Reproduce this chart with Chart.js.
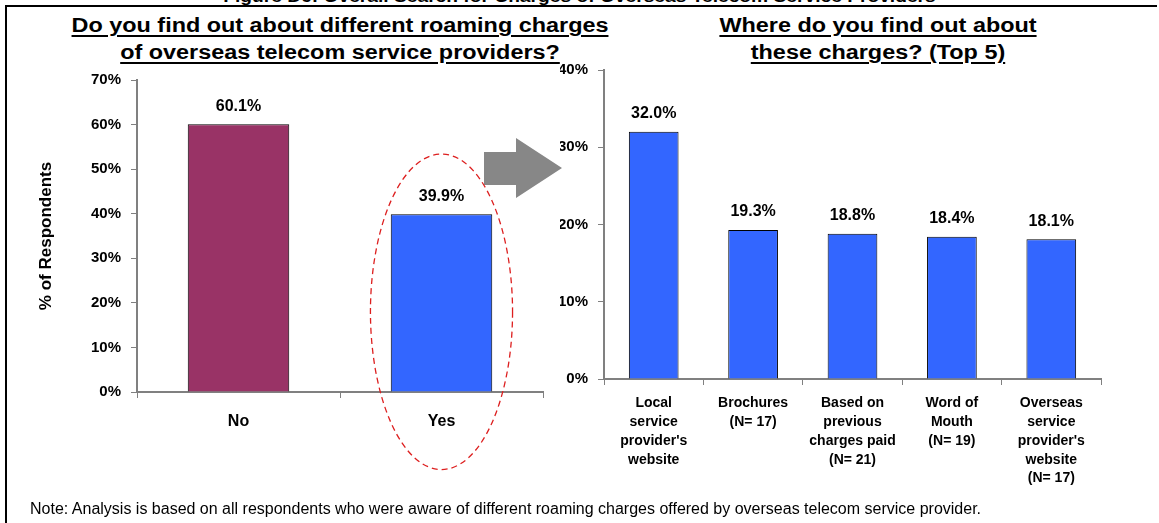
<!DOCTYPE html>
<html>
<head>
<meta charset="utf-8">
<script src="https://cdn.jsdelivr.net/npm/chart.js@4.4.1/dist/chart.umd.min.js"></script>
<style>
  html, body { margin: 0; padding: 0; background: #fff; }
  body { width: 1159px; height: 523px; position: relative; overflow: hidden; font-family: "Liberation Sans", Arial, sans-serif; }
  canvas { position: absolute; left: 0; top: 0; }
  .frame { position: absolute; left: 5px; top: 5px; width: 1150px; height: 530px; border-left: 2px solid #000; border-top: 2px solid #000; }
  .fig-title { position: absolute; left: 0; width: 1159px; top: -12px; text-align: center; font: bold 16px "Liberation Sans", Arial, sans-serif;
               transform: scaleX(1.2); }
  .title { position: absolute; text-align: center; font: bold 20px "Liberation Sans", Arial, sans-serif; line-height: 27px;
           text-decoration: underline; text-decoration-thickness: 2px; text-underline-offset: 3px;
           transform: scaleX(1.17); transform-origin: center top; }
  .note { position: absolute; left: 30px; top: 500px; font: 16px "Liberation Sans", Arial, sans-serif; }
  svg { position: absolute; left: 0; top: 0; }
</style>
</head>
<body>
<div class="fig-title">Figure D6: Overall Search for Charges of Overseas Telecom Service Providers</div>
<div class="frame"></div>
<div class="title" style="left:40px;width:600px;top:12px;">Do you find out about different roaming charges<br>of overseas telecom service providers?</div>
<div class="title" style="left:678px;width:400px;top:12px;">Where do you find out about<br>these charges? (Top 5)</div>
<svg width="1159" height="523">
  <polygon points="484,152 516,152 516,138 562,168 516,198 516,185 484,185" fill="#878787"/>
</svg>
<canvas id="awareChart" width="1159" height="523"></canvas>
<canvas id="sourceChart" width="1159" height="523"></canvas>
<div class="note">Note: Analysis is based on all respondents who were aware of different roaming charges offered by overseas telecom service provider.</div>

<script>
// left panel: aware of roaming charges?
const answerLabels = ['No', 'Yes'];
const answerValues = [60.1, 39.9];

// right panel: top 5 sources
const sourceLabels = [
  ['Local', 'service', "provider's", 'website'],
  ['Brochures', '(N= 17)'],
  ['Based on', 'previous', 'charges paid', '(N= 21)'],
  ['Word of', 'Mouth', '(N= 19)'],
  ['Overseas', 'service', "provider's", 'website', '(N= 17)']
];
const sourceValues = [32.0, 19.3, 18.8, 18.4, 18.1];

const FONT = '"Liberation Sans", Arial, sans-serif';
const AXIS_GREY = '#808080';

// percentage above every bar
const valueLabels = {
  id: 'valueLabels',
  afterDatasetsDraw(chart) {
    const ctx = chart.ctx;
    const meta = chart.getDatasetMeta(0);
    const values = chart.data.datasets[0].data;
    ctx.save();
    ctx.font = 'bold 16px ' + FONT;
    ctx.fillStyle = '#000';
    ctx.textAlign = 'center';
    ctx.textBaseline = 'middle';
    meta.data.forEach((bar, i) => {
      ctx.fillText(values[i].toFixed(1) + '%', bar.x, bar.y - 18);
    });
    ctx.restore();
  }
};

// dashed ring around the "Yes" bar
const yesRing = {
  id: 'yesRing',
  afterDraw(chart) {
    const bar = chart.getDatasetMeta(0).data[1];
    const y = chart.scales.y;
    const cy = y.getPixelForValue(18);
    const ry = cy - y.getPixelForValue(53.4);
    const ctx = chart.ctx;
    ctx.save();
    ctx.strokeStyle = '#dd1f1f';
    ctx.lineWidth = 1.3;
    ctx.setLineDash([6, 4]);
    ctx.beginPath();
    ctx.ellipse(bar.x, cy, bar.width * 0.7, ry, 0, 0, Math.PI * 2);
    ctx.stroke();
    ctx.restore();
  }
};

function axisOpts(max, width, extra) {
  return {
    min: 0,
    max: max,
    ticks: {
      stepSize: 10,
      color: '#000',
      padding: 10,
      font: { family: FONT, size: 15, weight: 'bold' },
      callback: v => v + '%'
    },
    grid: { drawOnChartArea: false, drawTicks: true, tickLength: 6, color: AXIS_GREY },
    border: { color: AXIS_GREY, width: 2 },
    afterFit(scale) { scale.width = width; },
    ...extra
  };
}

function catOpts(height, fontSize, lineHeight, padding) {
  return {
    ticks: {
      color: '#000',
      padding: padding,
      maxRotation: 0,
      autoSkip: false,
      font: { family: FONT, size: fontSize, weight: 'bold', lineHeight: lineHeight }
    },
    grid: { drawOnChartArea: false, drawTicks: true, tickLength: 6, offset: true, color: AXIS_GREY },
    border: { color: AXIS_GREY, width: 2 },
    afterFit(scale) { scale.height = height; }
  };
}

const baseOptions = {
  responsive: false,
  animation: false,
  devicePixelRatio: 1,
  plugins: { legend: { display: false }, tooltip: { enabled: false } }
};

new Chart(document.getElementById('awareChart'), {
  type: 'bar',
  data: {
    labels: answerLabels,
    datasets: [{
      data: answerValues,
      backgroundColor: ['#993366', '#3366FF'],
      borderColor: '#000',
      borderWidth: 1,
      categoryPercentage: 1,
      barPercentage: 0.5
    }]
  },
  options: {
    ...baseOptions,
    layout: { padding: { left: 32, top: 80, right: 616, bottom: 0 } },
    scales: {
      x: catOpts(131, 16, 1.2, 14),
      y: axisOpts(70, 105, {
        title: { display: true, text: '% of Respondents', color: '#000', font: { family: FONT, size: 17, weight: 'bold' } }
      })
    }
  },
  plugins: [valueLabels, yesRing]
});

new Chart(document.getElementById('sourceChart'), {
  type: 'bar',
  data: {
    labels: sourceLabels,
    datasets: [{
      data: sourceValues,
      backgroundColor: '#3366FF',
      borderColor: '#000',
      borderWidth: 1,
      categoryPercentage: 1,
      barPercentage: 0.5
    }]
  },
  options: {
    ...baseOptions,
    layout: { padding: { left: 560, top: 70, right: 58, bottom: 0 } },
    scales: {
      x: catOpts(144, 14, 1.34, 9),
      y: axisOpts(40, 44, {})
    }
  },
  plugins: [valueLabels]
});
</script>
</body>
</html>
